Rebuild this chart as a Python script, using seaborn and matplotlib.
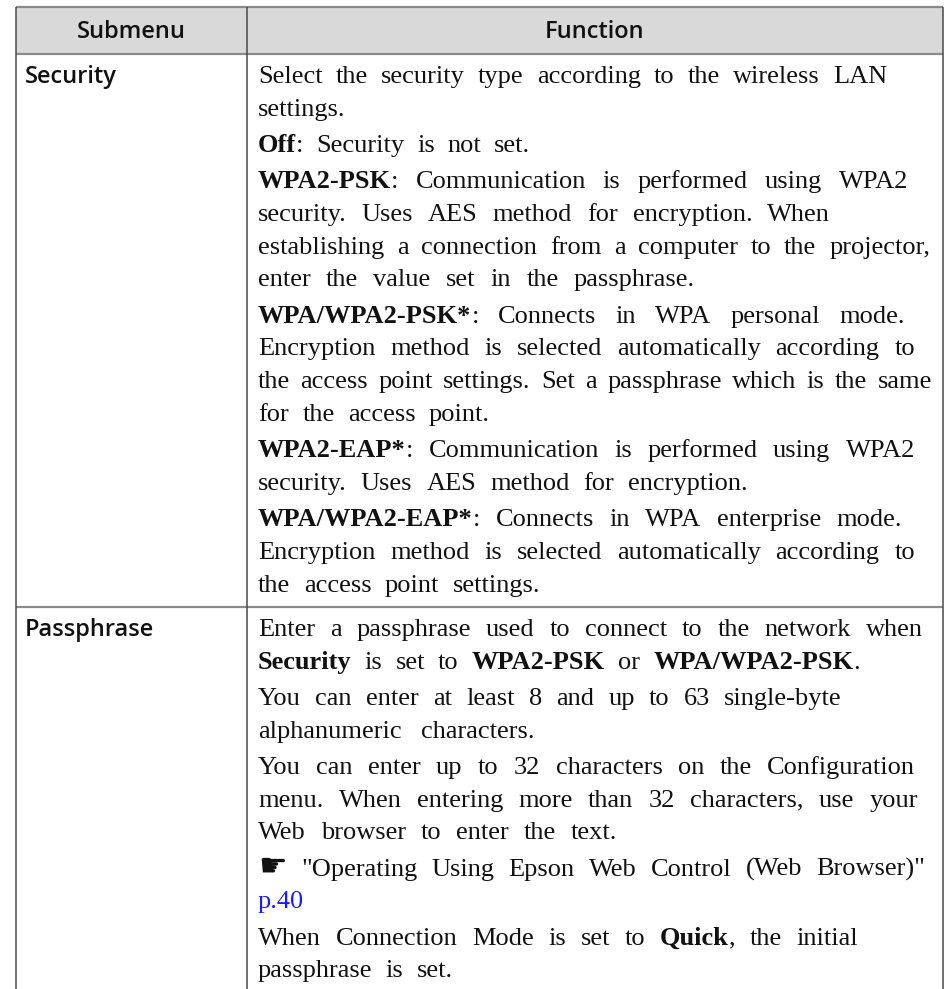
import matplotlib
matplotlib.use("Agg")
import matplotlib.pyplot as plt
import seaborn as sns
from matplotlib.patches import Rectangle

# ---------------- data ----------------
header_labels = ["Submenu", "Function"]
submenus = ["Security", "Passphrase"]

# each paragraph is a list of lines; each line a list of (text, style)
# style: "n" normal, "b" bold, "link" blue link, "hand" pointing hand glyph
security_paragraphs = [
    [[("Select the security type according to the wireless LAN", "n")],
     [("settings.", "n")]],
    [[("Off", "b"), (": Security is not set.", "n")]],
    [[("WPA2-PSK", "b"), (": Communication is performed using WPA2", "n")],
     [("security. Uses AES method for encryption. When", "n")],
     [("establishing a connection from a computer to the projector,", "n")],
     [("enter the value set in the passphrase.", "n")]],
    [[("WPA/WPA2-PSK*", "b"), (": Connects in WPA personal mode.", "n")],
     [("Encryption method is selected automatically according to", "n")],
     [("the access point settings. Set a passphrase which is the same", "n")],
     [("for the access point.", "n")]],
    [[("WPA2-EAP*", "b"), (": Communication is performed using WPA2", "n")],
     [("security. Uses AES method for encryption.", "n")]],
    [[("WPA/WPA2-EAP*", "b"), (": Connects in WPA enterprise mode.", "n")],
     [("Encryption method is selected automatically according to", "n")],
     [("the access point settings.", "n")]],
]

passphrase_paragraphs = [
    [[("Enter a passphrase used to connect to the network when", "n")],
     [("Security", "b"), (" is set to ", "n"), ("WPA2-PSK", "b"), (" or ", "n"),
      ("WPA/WPA2-PSK", "b"), (".", "n")]],
    [[("You can enter at least 8 and up to 63 single-byte", "n")],
     [("alphanumeric characters.", "n")]],
    [[("You can enter up to 32 characters on the Configuration", "n")],
     [("menu. When entering more than 32 characters, use your", "n")],
     [("Web browser to enter the text.", "n")]],
    [[("\u261B", "hand"), (" \"Operating Using Epson Web Control (Web Browser)\"", "n")],
     [("p.40", "link")]],
    [[("When Connection Mode is set to ", "n"), ("Quick", "b"), (", the initial", "n")],
     [("passphrase is set.", "n")]],
]

row_paragraphs = [security_paragraphs, passphrase_paragraphs]

# ---------------- layout / style ----------------
# right edge (px) each text line is spread to, as in the typeset original
security_line_ends = [887, 343, 530, 908, 830, 930, 695, 905, 915, 932, 490,
                      915, 748, 902, 915, 540]
passphrase_line_ends = [923, 860, 842, 535, 915, 918, 617, 925, 303, 858, 453]
row_line_ends = [security_line_ends, passphrase_line_ends]

W, H = 951, 989
sns.set_theme(style="white")
plt.rcParams["font.family"] = ["Liberation Serif", "DejaVu Serif"]

fig = plt.figure(figsize=(W / 100, H / 100), dpi=100)
ax = fig.add_axes([0, 0, 1, 1])
ax.set_xlim(0, W)
ax.set_ylim(H, 0)
ax.axis("off")

x_left, x_div, x_right = 16, 247, 943
y_top, y_head = 7, 54
row_tops = [54, 607]
row_bottom = H + 5
first_baselines = [83, 636]
pitch, para_pitch = 32.7, 36.3
body_size = 19
label_size = 17
text_x = 258
ink = "#111111"

border_col = "#4a4a4a"
sep_col = "#8a8a8a"

# header background
ax.add_patch(Rectangle((x_left, y_top), x_right - x_left, y_head - y_top,
                       facecolor="#d9d9d9", edgecolor="none", zorder=0))
# horizontal lines
for yh in (y_top, y_head, row_tops[1]):
    ax.plot([x_left, x_right], [yh, yh], color=sep_col, lw=1.6,
            solid_capstyle="butt")
# vertical lines
for xv in (x_left, x_div, x_right):
    ax.plot([xv, xv], [y_top, row_bottom], color=border_col, lw=1.1,
            solid_capstyle="butt")

sans = ["Open Sans", "DejaVu Sans"]
ax.text((x_left + x_div) / 2, 38, header_labels[0], ha="center", va="baseline",
        family=sans, weight="semibold", fontsize=label_size, color=ink)
ax.text((x_div + x_right) / 2, 38, header_labels[1], ha="center", va="baseline",
        family=sans, weight="semibold", fontsize=label_size, color=ink)

for lab, yb in zip(submenus, first_baselines):
    ax.text(25, yb, lab, ha="left", va="baseline", family=sans,
            weight="semibold", fontsize=label_size, color=ink)

renderer = fig.canvas.get_renderer()


def style_kw(style):
    if style == "b":
        return dict(weight="bold", color=ink, fontsize=body_size)
    if style == "link":
        return dict(color="#1a1aff", fontsize=body_size)
    if style == "hand":
        return dict(family=["DejaVu Sans"], color=ink, fontsize=23)
    return dict(color=ink, fontsize=body_size)


_cache = {}


def ink_width(s, style):
    key = (s, style)
    if key not in _cache:
        t = ax.text(0, 0, s, **style_kw(style))
        _cache[key] = t.get_window_extent(renderer).width
        t.remove()
    return _cache[key]


def advance(s, style):
    return ink_width("|" + s + "|", style) - ink_width("||", style)


def split_words(segments):
    words = []
    new_word = True
    for text, style in segments:
        parts = text.split(" ")
        for i, p in enumerate(parts):
            if i > 0:
                new_word = True
            if p == "":
                continue
            if new_word or not words:
                words.append([(p, style)])
            else:
                words[-1].append((p, style))
            new_word = False
        if text.endswith(" "):
            new_word = True
    return words


def draw_line(segments, x0, yb, x_end):
    words = split_words(segments)
    widths = [sum(advance(p, s) for p, s in w) for w in words]
    if len(words) > 1:
        gap = (x_end - x0 - sum(widths)) / (len(words) - 1)
        gap = max(gap, 6.0)
    else:
        gap = 0
    x = x0
    for w, wd in zip(words, widths):
        xx = x
        for piece, style in w:
            ax.text(xx, yb, piece, ha="left", va="baseline", **style_kw(style))
            xx += advance(piece, style)
        x += wd + gap


for paras, yb0, ends in zip(row_paragraphs, first_baselines, row_line_ends):
    y = yb0
    k = 0
    for pi, para in enumerate(paras):
        if pi > 0:
            y += para_pitch - pitch
        for line in para:
            if k > 0:
                y += pitch
            draw_line(line, text_x, y, ends[k])
            k += 1

fig.savefig("out.png", dpi=100, facecolor="white")
